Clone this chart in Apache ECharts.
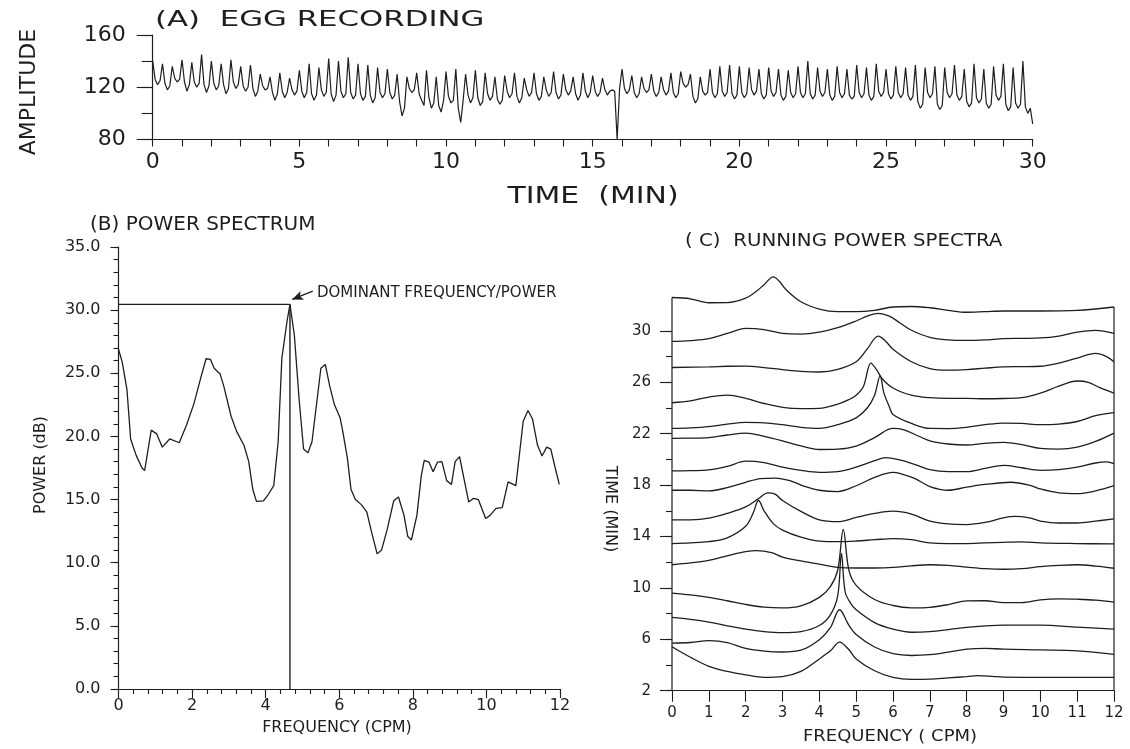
<!DOCTYPE html>
<html>
<head>
<meta charset="utf-8">
<script src="https://cdn.jsdelivr.net/npm/echarts@6/dist/echarts.min.js"></script>
<style>
html,body{margin:0;padding:0;background:#fff;}
#chart{width:1130px;height:749px;}
</style>
</head>
<body>
<div id="chart"></div>
<script>
// ---------- Panel A: EGG recording ----------
// eggPeaksTroughs: samples every 10 s (alternating spike tops / troughs)
// eggBetween: the sample 5 s after each of those
const eggStepMin = 1 / 6;
const eggPeaksTroughs = [
  140,122,138,118,136,124, 141,117,139,120,145,116, 140,118,138,115,141,119,
  136,117,137,113,130,118, 128,110,131,112,127,114, 133,112,138,110,135,113,
  142,109,140,112,143,111, 138,110,137,108,135,112, 134,111,130,98,128,116,
  131,110,133,104,128,101, 132,108,134,93,130,108, 133,106,131,110,128,107,
  129,112,131,108,127,113, 131,110,128,113,132,111, 130,114,128,110,131,112,
  129,113,127,114,118,80, 134,115,129,112,128,116, 130,113,128,114,131,112,
  132,120,130,108,128,114, 134,112,136,113,137,111, 136,112,135,114,134,111,
  135,113,134,110,133,112, 136,112,140,111,135,113, 134,110,136,112,134,111,
  137,112,135,110,138,113, 134,111,136,112,135,110, 137,104,135,112,136,103,
  135,112,137,110,134,105, 138,108,134,104,136,110, 138,102,135,104,140,100,
  92
];
const eggBetween = [
  126,125,123,121,127,126, 124,122,124,123,122,121, 123,121,122,119,124,122,
  121,120,119,117,121,119, 116,115,117,116,118,117, 117,116,115,114,118,116,
  115,114,117,115,116,114, 115,113,114,112,116,115, 116,114,109,104,119,118,
  115,106,112,108,106,110, 113,110,104,110,114,112, 112,109,115,113,111,110,
  117,115,113,112,118,116, 115,113,118,116,116,114, 118,117,115,114,117,116,
  117,116,118,117,117,119, 119,118,116,115,119,118, 117,116,118,117,116,115,
  123,122,113,111,117,116, 116,115,117,116,115,114, 116,115,118,117,115,114,
  117,116,114,113,116,115, 116,115,115,114,117,116, 114,113,116,115,114,113,
  116,115,114,113,117,116, 115,114,116,115,114,113, 109,107,116,115,107,106,
  116,115,114,113,109,108, 112,111,108,107,114,113, 107,105,108,107,105,104
];
const aXLabels = [0,5,10,15,20,25,30];
const aYLabels = [80,120,160];

// ---------- Panel B: power spectrum ----------
const bFreq = [0,0.1,0.23,0.33,0.48,0.64,0.71,0.89,1.04,1.19,1.39,1.65,1.85,2.05,2.25,2.38,2.5,2.6,2.76,2.86,
  3.06,3.21,3.41,3.54,3.65,3.75,3.94,4.07,4.22,4.34,4.44,4.58,4.66,4.78,4.91,5.03,5.15,5.26,5.41,5.5,
  5.62,5.74,5.87,6.02,6.09,6.22,6.32,6.44,6.6,6.75,6.88,7.03,7.15,7.3,7.48,7.61,7.76,7.86,7.96,8.11,
  8.23,8.31,8.44,8.55,8.67,8.79,8.92,9.05,9.15,9.27,9.39,9.52,9.65,9.78,9.98,10.1,10.26,10.43,10.59,10.8,
  11.0,11.13,11.25,11.39,11.51,11.64,11.75,11.87,11.98];
const bPower = [26.9,25.9,23.7,19.8,18.5,17.5,17.3,20.5,20.2,19.15,19.8,19.5,20.9,22.6,24.8,26.15,26.1,25.4,24.95,24.0,
  21.6,20.4,19.3,18.0,15.8,14.86,14.9,15.4,16.1,19.6,26.2,29.1,30.45,28.0,22.9,19.0,18.7,19.6,23.2,25.4,
  25.7,24.0,22.5,21.5,20.5,18.3,15.8,15.0,14.6,14.0,12.4,10.7,11.0,12.6,14.9,15.2,13.75,12.1,11.8,13.75,
  16.9,18.1,17.96,17.2,17.96,18.0,16.5,16.2,18.0,18.4,16.65,14.8,15.1,15.0,13.5,13.75,14.3,14.36,16.4,16.1,
  21.2,22.05,21.4,19.3,18.45,19.15,19.0,17.5,16.2];
const domFreq = 4.66;
const domPower = 30.45;
const arrowTail = [5.28, 31.5];
const arrowTip = [4.72, 30.85];
const bXLabels = [0,2,4,6,8,10,12];
const bYLabels = [0,5,10,15,20,25,30,35];

// ---------- Panel C: running power spectra ([frequency, stacked time position]) ----------
const run1 = [[0,5.42],[0.5,4.6],[1,3.9],[1.5,3.5],[2,3.23],[2.5,3.04],[3,3.1],[3.5,3.5],[4,4.47],[4.3,5.1],[4.55,5.78],[4.8,5.2],[5,4.47],[5.5,3.55],[6,3.04],[6.5,2.88],[7,2.9],[7.5,3.0],[8,3.1],[8.3,3.18],[8.7,3.12],[9,3.05],[10,3.04],[11,3.04],[12,3.04]];
const run2 = [[0,5.7],[0.5,5.75],[1,5.89],[1.5,5.75],[2,5.29],[2.5,5.08],[3,5.01],[3.5,5.15],[4,5.97],[4.3,6.9],[4.55,8.3],[4.8,7.1],[5,6.38],[5.5,5.4],[6,4.88],[6.5,4.74],[7,4.8],[7.5,5.0],[8,5.23],[8.5,5.3],[9,5.23],[10,5.17],[11,5.1],[12,4.82]];
const run3 = [[0,7.7],[0.5,7.55],[1,7.34],[1.5,7.05],[2,6.79],[2.5,6.6],[3,6.52],[3.5,6.6],[4,7.07],[4.3,7.9],[4.5,9.4],[4.6,12.68],[4.7,9.7],[4.85,8.8],[5,8.3],[5.5,7.3],[6,6.79],[6.5,6.55],[7,6.6],[7.5,6.75],[8,6.93],[9,7.1],[10,7.1],[11,6.95],[12,6.79]];
const run4 = [[0,9.59],[0.5,9.45],[1,9.26],[1.5,9.0],[2,8.71],[2.5,8.5],[3,8.44],[3.5,8.6],[4,9.26],[4.3,10.1],[4.5,11.4],[4.65,14.55],[4.8,11.4],[5,10.2],[5.5,9.1],[6,8.63],[6.5,8.45],[7,8.49],[7.5,8.7],[8,8.99],[8.5,9.0],[9,8.85],[9.5,8.85],[10,9.07],[10.5,9.15],[11,9.12],[11.5,9.05],[12,8.9]];
const run5 = [[0,11.8],[0.5,11.95],[1,12.14],[1.5,12.5],[2,12.82],[2.3,12.9],[2.7,12.75],[3,12.4],[3.5,12.1],[4,11.85],[4.5,11.6],[5,11.55],[5.5,11.55],[6,11.59],[6.5,11.72],[7,11.8],[7.5,11.75],[8,11.62],[8.5,11.5],[9,11.45],[9.5,11.5],[10,11.65],[10.5,11.75],[11,11.8],[11.5,11.7],[12,11.53]];
const run6 = [[0,13.45],[0.5,13.5],[1,13.6],[1.5,13.9],[2,14.8],[2.2,15.8],[2.35,16.8],[2.5,16.0],[2.75,15.0],[3,14.5],[3.5,13.95],[4,13.64],[4.5,13.6],[5,13.65],[5.5,13.75],[6,13.84],[6.5,13.75],[7,13.5],[7.5,13.45],[8,13.45],[8.5,13.5],[9,13.55],[9.5,13.58],[10,13.5],[11,13.45],[12,13.42]];
const run7 = [[0,15.29],[0.5,15.3],[1,15.43],[1.5,15.8],[2,16.3],[2.35,16.95],[2.6,17.4],[2.8,17.3],[3,16.8],[3.5,15.95],[4,15.29],[4.5,15.15],[5,15.48],[5.5,15.8],[6,15.97],[6.5,15.75],[7,15.2],[7.5,14.98],[8,14.93],[8.5,15.1],[9,15.45],[9.3,15.56],[9.7,15.45],[10,15.2],[10.5,15.05],[11,15.05],[11.5,15.2],[12,15.37]];
const run8 = [[0,17.6],[0.5,17.6],[1,17.55],[1.5,17.8],[2,18.22],[2.4,18.5],[2.8,18.55],[3.2,18.35],[3.6,17.9],[4,17.6],[4.5,17.5],[5,17.95],[5.5,18.6],[6,18.99],[6.2,18.9],[6.6,18.5],[7,17.89],[7.5,17.6],[8,17.84],[8.5,18.05],[9.2,18.22],[9.7,18.0],[10,17.7],[10.5,17.4],[11,17.34],[11.5,17.55],[12,17.95]];
const run9 = [[0,19.1],[0.5,19.12],[1,19.18],[1.5,19.45],[2,19.86],[2.5,19.75],[3,19.4],[3.5,19.15],[4,18.99],[4.5,19.05],[5,19.4],[5.5,19.9],[5.8,20.14],[6.2,19.95],[6.6,19.6],[7,19.2],[7.5,19.05],[8,19.05],[8.5,19.3],[9,19.53],[9.5,19.35],[10,19.15],[10.5,19.2],[11,19.4],[11.5,19.72],[11.8,19.8],[12,19.67]];
const run10 = [[0,21.64],[0.5,21.65],[1,21.7],[1.5,21.9],[2,22.05],[2.5,21.8],[3,21.45],[3.5,21.05],[4,20.77],[4.5,20.8],[5,21.04],[5.5,21.7],[6,22.41],[6.3,22.3],[6.7,21.8],[7,21.45],[7.5,21.2],[8,21.12],[8.5,21.25],[9,21.32],[9.5,21.15],[10,20.85],[10.5,20.8],[11,20.95],[11.5,21.4],[12,22.05]];
const run11 = [[0,22.41],[0.5,22.45],[1,22.55],[1.5,22.75],[2,22.88],[2.5,22.85],[3,22.7],[3.5,22.5],[4,22.41],[4.5,22.7],[5,23.23],[5.3,24.0],[5.5,25.0],[5.65,26.5],[5.75,25.2],[5.9,24.1],[6,23.5],[6.5,22.8],[7,22.41],[7.5,22.4],[8,22.5],[8.5,22.7],[9,22.83],[9.5,22.8],[10,22.7],[10.5,22.75],[11,22.95],[11.5,23.4],[12,23.64]];
const run12 = [[0,24.41],[0.5,24.55],[1,24.85],[1.5,25.0],[2,24.75],[2.5,24.35],[3,24.05],[3.5,23.95],[4,23.97],[4.5,24.3],[4.8,24.65],[5,25.0],[5.2,25.7],[5.4,27.5],[5.55,27.0],[5.7,26.3],[6,25.56],[6.5,25.0],[7,24.8],[7.5,24.75],[8,24.75],[8.5,24.72],[9,24.74],[9.5,24.8],[10,25.15],[10.5,25.7],[11,26.1],[11.3,26.0],[11.6,25.6],[12,25.15]];
const run13 = [[0,27.15],[1,27.2],[1.5,27.25],[2,27.26],[2.5,27.15],[3,26.99],[3.5,26.85],[4,26.8],[4.5,27.0],[5,27.6],[5.3,28.6],[5.6,29.6],[5.8,29.2],[6,28.57],[6.5,27.6],[7,27.07],[7.5,26.95],[8,26.99],[8.5,27.1],[9,27.2],[9.5,27.22],[10,27.25],[10.5,27.5],[11,27.89],[11.5,28.25],[11.8,28.0],[12,27.6]];
const run14 = [[0,29.18],[0.5,29.25],[1,29.4],[1.5,29.8],[2,30.2],[2.5,30.1],[3,29.8],[3.5,29.75],[4,29.9],[4.5,30.25],[5,30.77],[5.3,31.15],[5.6,31.37],[5.9,31.15],[6.2,30.6],[6.5,30.05],[7,29.5],[7.5,29.3],[8,29.26],[8.5,29.3],[9,29.4],[9.5,29.42],[10,29.45],[10.5,29.6],[11,29.9],[11.5,30.04],[12,29.8]];
const run15 = [[0,32.6],[0.5,32.5],[1,32.19],[1.5,32.2],[2,32.55],[2.3,33.1],[2.5,33.6],[2.75,34.2],[2.9,33.9],[3.1,33.2],[3.5,32.27],[4,31.7],[4.5,31.5],[5,31.5],[5.5,31.6],[6,31.86],[6.5,31.9],[7,31.8],[7.5,31.6],[8,31.45],[8.5,31.5],[9,31.55],[10,31.55],[11,31.6],[12,31.86]];
const cXLabels = [0,1,2,3,4,5,6,7,8,9,10,11,12];
const cYLabels = [2,6,10,14,18,22,26,30];
const cYMinorTicks = [2,4,6,8,10,12,14,16,18,20,22,24,26,28,30];

// ---------- build ----------
const INK = '#1e1e1e';
const FONT = '"DejaVu Sans", sans-serif';
const chart = echarts.init(document.getElementById('chart'), null, {renderer: 'canvas'});

function axisBase(extra) {
  return Object.assign({
    type: 'value',
    splitLine: {show: false},
    axisLine: {show: true, lineStyle: {color: INK, width: 1.2}},
    axisTick: {show: true, inside: false, lineStyle: {color: INK, width: 1.1}},
    axisLabel: {show: false, color: INK, fontFamily: FONT}
  }, extra);
}

const eggData = [];
eggPeaksTroughs.forEach((v, i) => {
  eggData.push([i * eggStepMin, v]);
  if (i < eggBetween.length) eggData.push([(i + 0.5) * eggStepMin, eggBetween[i]]);
});

const runs = [run1,run2,run3,run4,run5,run6,run7,run8,run9,run10,run11,run12,run13,run14,run15];
const cFirst = runs[runs.length - 1][0];
const cLast = runs[runs.length - 1][runs[runs.length - 1].length - 1];

const series = [];
series.push({
  type: 'line', xAxisIndex: 0, yAxisIndex: 0, showSymbol: false, symbol: 'none',
  data: eggData, lineStyle: {color: INK, width: 1.2}, animation: false
});
series.push({
  type: 'line', xAxisIndex: 1, yAxisIndex: 2, symbol: 'none',
  data: bFreq.map((f, i) => [f, bPower[i]]),
  lineStyle: {color: INK, width: 1.3}, animation: false,
  markLine: {
    silent: true, symbol: ['none', 'arrow'], symbolSize: [7, 11],
    lineStyle: {color: INK, width: 1.4, type: 'solid'}, label: {show: false},
    data: [[{coord: arrowTail}, {coord: arrowTip}]]
  }
});
series.push({
  type: 'line', xAxisIndex: 1, yAxisIndex: 2, symbol: 'none',
  data: [[0, domPower], [domFreq, domPower]],
  lineStyle: {color: INK, width: 1.2}, animation: false
});
series.push({
  type: 'line', xAxisIndex: 1, yAxisIndex: 2, symbol: 'none',
  data: [[domFreq, 0], [domFreq, domPower]],
  lineStyle: {color: INK, width: 1.4}, animation: false
});
runs.forEach(r => series.push({
  type: 'line', xAxisIndex: 3, yAxisIndex: 4, symbol: 'none', smooth: 0.35, clip: false,
  data: r, lineStyle: {color: INK, width: 1.3}, animation: false
}));
series.push({
  type: 'line', xAxisIndex: 3, yAxisIndex: 4, symbol: 'none', clip: false,
  data: [[0, 2], cFirst], lineStyle: {color: INK, width: 1.2}, animation: false
});
series.push({
  type: 'line', xAxisIndex: 3, yAxisIndex: 4, symbol: 'none', clip: false,
  data: [[12, 2], cLast], lineStyle: {color: INK, width: 1.2}, animation: false
});

function txt(x, y, text, size, opts) {
  opts = opts || {};
  return {
    type: 'text', x: x, y: y, rotation: opts.rot || 0, scaleX: opts.sx || 1,
    silent: true,
    style: {
      text: text, font: (opts.weight || 'normal') + ' ' + size + 'px ' + FONT,
      fill: INK, align: opts.align || 'center', verticalAlign: 'middle'
    }
  };
}

const option = {
  backgroundColor: '#ffffff',
  animation: false,
  grid: [
    {left: 152.7, top: 35, width: 880, height: 104.5},
    {left: 118.5, top: 247, width: 441.5, height: 442},
    {left: 672, top: 253.8, width: 442, height: 436.9}
  ],
  xAxis: [
    axisBase({gridIndex: 0, position: 'bottom', min: 0, max: 30, interval: 1,
      axisTick: {show: true, length: 7, lineStyle: {color: INK, width: 1.1}},
      axisLabel: {show: true, customValues: aXLabels, margin: 12, fontSize: 22, color: INK, fontFamily: FONT}}),
    axisBase({gridIndex: 1, position: 'bottom', min: 0, max: 12, interval: 0.4,
      axisTick: {show: true, length: 5, lineStyle: {color: INK, width: 1.1}}}),
    axisBase({gridIndex: 1, position: 'bottom', min: 0, max: 12, interval: 2,
      axisLine: {show: false},
      axisTick: {show: true, length: 9, lineStyle: {color: INK, width: 1.1}},
      axisLabel: {show: true, customValues: bXLabels, margin: 9, fontSize: 16, color: INK, fontFamily: FONT}}),
    axisBase({gridIndex: 2, position: 'bottom', min: 0, max: 12, interval: 1,
      axisTick: {show: true, length: 11, lineStyle: {color: INK, width: 1.1}},
      axisLabel: {show: true, customValues: cXLabels, margin: 15, fontSize: 15, color: INK, fontFamily: FONT}})
  ],
  yAxis: [
    axisBase({gridIndex: 0, position: 'left', min: 80, max: 160, interval: 20,
      axisTick: {show: true, length: 11, lineStyle: {color: INK, width: 1.1}}}),
    axisBase({gridIndex: 0, position: 'left', min: 80, max: 160, interval: 40,
      axisLine: {show: false},
      axisTick: {show: true, length: 16, lineStyle: {color: INK, width: 1.1}},
      axisLabel: {show: true, customValues: aYLabels, margin: 27, fontSize: 22, color: INK, fontFamily: FONT}}),
    axisBase({gridIndex: 1, position: 'left', min: 0, max: 35, interval: 1,
      axisTick: {show: true, length: 5, lineStyle: {color: INK, width: 1.1}}}),
    axisBase({gridIndex: 1, position: 'left', min: 0, max: 35, interval: 5,
      axisLine: {show: false},
      axisTick: {show: true, length: 8, lineStyle: {color: INK, width: 1.1}},
      axisLabel: {show: true, customValues: bYLabels, margin: 18, fontSize: 16, color: INK, fontFamily: FONT,
        formatter: v => Number(v).toFixed(1)}}),
    axisBase({gridIndex: 2, position: 'left', min: 2, max: 36, interval: 2,
      axisLine: {show: false},
      axisTick: {show: true, customValues: cYMinorTicks, length: 6, lineStyle: {color: INK, width: 1.1}}}),
    axisBase({gridIndex: 2, position: 'left', min: 2, max: 36, interval: 2,
      axisLine: {show: false},
      axisTick: {show: true, customValues: cYLabels, length: 12, lineStyle: {color: INK, width: 1.1}},
      axisLabel: {show: true, customValues: cYLabels, margin: 21, fontSize: 15, color: INK, fontFamily: FONT}})
  ],
  series: series,
  graphic: [
    txt(155, 20, '(A)  EGG RECORDING', 22, {align: 'left', sx: 1.4}),
    txt(29, 92, 'AMPLITUDE', 22, {rot: Math.PI / 2}),
    txt(593, 197, 'TIME  (MIN)', 23, {sx: 1.3}),
    txt(90, 225, '(B) POWER SPECTRUM', 20, {align: 'left'}),
    txt(41, 465, 'POWER (dB)', 16, {rot: Math.PI / 2}),
    txt(337, 728, 'FREQUENCY (CPM)', 16),
    txt(317, 293, 'DOMINANT FREQUENCY/POWER', 15, {align: 'left'}),
    txt(685, 241, '( C)  RUNNING POWER SPECTRA', 18, {align: 'left', sx: 1.1}),
    txt(610, 509, 'TIME (MIN)', 16, {rot: -Math.PI / 2}),
    txt(890, 737, 'FREQUENCY ( CPM)', 15, {sx: 1.2})
  ]
};
chart.setOption(option);
</script>
</body>
</html>
